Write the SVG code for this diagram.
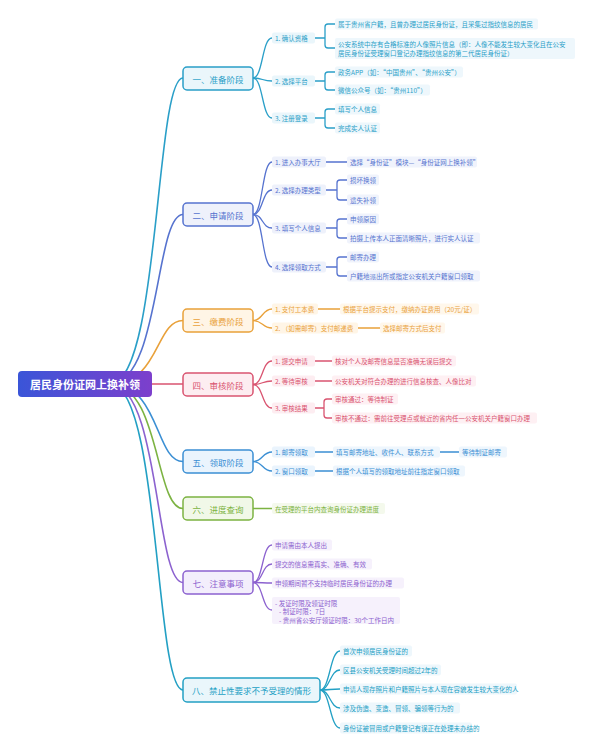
<svg xmlns="http://www.w3.org/2000/svg" width="590" height="754" viewBox="0 0 590 754">
<defs>
<linearGradient id="rg" x1="0" y1="0" x2="1" y2="0"><stop offset="0" stop-color="#3a55d8"/><stop offset="1" stop-color="#7d3fcc"/></linearGradient>
<style>
text{font-family:"Noto Sans CJK SC","Noto Sans",sans-serif;dominant-baseline:central}
.s{font-size:6.5px}
.h{font-size:8.5px;text-anchor:middle}
.lr{fill:none;stroke-width:1.6;stroke-linecap:round}
.ln{fill:none;stroke-width:1.3;stroke-linecap:round}
.bx{stroke-width:1.5}
.c1{fill:#2a9fc8}.k1{stroke:#2a9fc8}.f1{fill:#eaf6fb}.g1{fill:#eef7fc}
.c2{fill:#5673cf}.k2{stroke:#5673cf}.f2{fill:#eef1fb}.g2{fill:#f0f3fc}
.c3{fill:#e9a13a}.k3{stroke:#e9a13a}.f3{fill:#fff5e6}.g3{fill:#fff7eb}
.c4{fill:#d95470}.k4{stroke:#d95470}.f4{fill:#fdedf1}.g4{fill:#fef0f3}
.c5{fill:#3b8fd4}.k5{stroke:#3b8fd4}.f5{fill:#eaf4fd}.g5{fill:#eef6fd}
.c6{fill:#7cb342}.k6{stroke:#7cb342}.f6{fill:#f1f8e8}.g6{fill:#f4f9ec}
.c7{fill:#8c62cf}.k7{stroke:#8c62cf}.f7{fill:#f3eefc}.g7{fill:#f6f1fc}
.c8{fill:#23a0c4}.k8{stroke:#23a0c4}.f8{fill:#eaf6fb}.g8{fill:#eef7fc}
</style>
</defs>
<rect width="590" height="754" fill="#ffffff"/>

<g id="connectors">
<path class="lr k1" d="M110 384 C160 384 155 78 183 78"/>
<path class="lr k2" d="M110 384 C160 384 155 214.5 183 214.5"/>
<path class="lr k3" d="M110 384 C160 384 155 320.5 183 320.5"/>
<path class="lr k4" d="M110 384 H183"/>
<path class="lr k5" d="M110 384 C160 384 155 461.5 183 461.5"/>
<path class="lr k6" d="M110 384 C160 384 155 508.5 183 508.5"/>
<path class="lr k7" d="M110 384 C160 384 155 582.5 183 582.5"/>
<path class="lr k8" d="M110 384 C160 384 155 690 183 690"/>
<path class="ln k1" d="M253 78 C263 78 262 38 272 38"/>
<path class="ln k1" d="M253 78 C263 78 262 81 272 81"/>
<path class="ln k1" d="M253 78 C263 78 262 118 272 118"/>
<path class="ln k1" d="M315 38 H325 M325 38 V27 Q325 24 328 24 H335 M325 38 V45 Q325 48 328 48 H335"/>
<path class="ln k1" d="M315 81 H325 M325 81 V75 Q325 72 328 72 H335 M325 81 V87 Q325 90 328 90 H335"/>
<path class="ln k1" d="M315 118 H325 M325 118 V112 Q325 109 328 109 H335 M325 118 V125 Q325 128 328 128 H335"/>
<path class="ln k2" d="M253 214.5 C263 214.5 262 162 272 162"/>
<path class="ln k2" d="M253 214.5 C263 214.5 262 190 272 190"/>
<path class="ln k2" d="M253 214.5 C263 214.5 262 228 272 228"/>
<path class="ln k2" d="M253 214.5 C263 214.5 262 267 272 267"/>
<path class="ln k2" d="M326 162 H347"/>
<path class="ln k2" d="M326 190 H337 M337 190 V183 Q337 180 340 180 H347 M337 190 V197 Q337 200 340 200 H347"/>
<path class="ln k2" d="M326 228 H337 M337 228 V222 Q337 219 340 219 H347 M337 228 V235 Q337 238 340 238 H347"/>
<path class="ln k2" d="M326 267 H337 M337 267 V260 Q337 257 340 257 H347 M337 267 V273 Q337 276 340 276 H347"/>
<path class="ln k3" d="M253 320.5 C263 320.5 262 309 272 309"/>
<path class="ln k3" d="M253 320.5 C263 320.5 262 328 272 328"/>
<path class="ln k3" d="M318 309 H340"/>
<path class="ln k3" d="M358 328 H380"/>
<path class="ln k4" d="M253 384.5 C263 384.5 262 361 272 361"/>
<path class="ln k4" d="M253 384.5 C263 384.5 262 381 272 381"/>
<path class="ln k4" d="M253 384.5 C263 384.5 262 408 272 408"/>
<path class="ln k4" d="M315 361 H332"/>
<path class="ln k4" d="M315 381 H332"/>
<path class="ln k4" d="M315 408 H324 M324 408 V402 Q324 399 327 399 H332 M324 408 V415 Q324 418 327 418 H332"/>
<path class="ln k5" d="M253 461.5 C263 461.5 262 452 272 452"/>
<path class="ln k5" d="M253 461.5 C263 461.5 262 471 272 471"/>
<path class="ln k5" d="M315 452 H333"/>
<path class="ln k5" d="M440 452 H459"/>
<path class="ln k5" d="M315 471 H333"/>
<path class="ln k6" d="M253 508.5 H272"/>
<path class="ln k7" d="M253 582.5 C263 582.5 262 545 272 545"/>
<path class="ln k7" d="M253 582.5 C263 582.5 262 564 272 564"/>
<path class="ln k7" d="M253 582.5 C263 582.5 262 583 272 583"/>
<path class="ln k7" d="M253 582.5 C263 582.5 262 610 272 610"/>
<path class="ln k8" d="M320 690 C330 690 330 651 340 651"/>
<path class="ln k8" d="M320 690 C330 690 330 670 340 670"/>
<path class="ln k8" d="M320 690 C330 690 330 689 340 689"/>
<path class="ln k8" d="M320 690 C330 690 330 708 340 708"/>
<path class="ln k8" d="M320 690 C330 690 330 728 340 728"/>
</g>

<g id="root">
<rect x="18" y="371" width="134" height="26" rx="4" fill="url(#rg)"/>
<text x="85" y="384" font-size="11" font-weight="bold" fill="#ffffff" text-anchor="middle">居民身份证网上换补领</text>
</g>

<g id="n1">
<rect class="bx k1 f1" x="183" y="67" width="70" height="23" rx="4"/>
<text class="h c1" x="218" y="78.5">一、准备阶段</text>
<rect class="f1" x="272" y="32.5" width="43" height="11" rx="2"/><text class="s c1" x="275" y="38">1. 确认资格</text>
<rect class="f1" x="272" y="75.5" width="43" height="11" rx="2"/><text class="s c1" x="275" y="81">2. 选择平台</text>
<rect class="f1" x="272" y="112.5" width="43" height="11" rx="2"/><text class="s c1" x="275" y="118">3. 注册登录</text>
<rect class="g1" x="335" y="18.5" width="203" height="11" rx="2"/><text class="s c1" x="338" y="24">属于贵州省户籍，且曾办理过居民身份证，且采集过指纹信息的居民</text>
<rect class="g1" x="335" y="38" width="240" height="21" rx="2"/>
<text class="s c1" x="338" y="44">公安系统中存有合格标准的人像照片信息（即：人像不能发生较大变化且在公安</text>
<text class="s c1" x="338" y="53">居民身份证受理窗口登记办理指纹信息的第二代居民身份证）</text>
<rect class="g1" x="335" y="66.5" width="128" height="11" rx="2"/><text class="s c1" x="338" y="72">政务APP（如：“中国贵州”、“贵州公安”）</text>
<rect class="g1" x="335" y="84.5" width="95" height="11" rx="2"/><text class="s c1" x="338" y="90">微信公众号（如：“贵州110”）</text>
<rect class="g1" x="335" y="103.5" width="45" height="11" rx="2"/><text class="s c1" x="338" y="109">填写个人信息</text>
<rect class="g1" x="335" y="122.5" width="45" height="11" rx="2"/><text class="s c1" x="338" y="128">完成实人认证</text>
</g>

<g id="n2">
<rect class="bx k2 f2" x="183" y="203" width="70" height="23" rx="4"/>
<text class="h c2" x="218" y="214.5">二、申请阶段</text>
<rect class="f2" x="272" y="156.5" width="54" height="11" rx="2"/><text class="s c2" x="275" y="162">1. 进入办事大厅</text>
<rect class="f2" x="272" y="184.5" width="54" height="11" rx="2"/><text class="s c2" x="275" y="190">2. 选择办理类型</text>
<rect class="f2" x="272" y="222.5" width="54" height="11" rx="2"/><text class="s c2" x="275" y="228">3. 填写个人信息</text>
<rect class="f2" x="272" y="261.5" width="54" height="11" rx="2"/><text class="s c2" x="275" y="267">4. 选择领取方式</text>
<rect class="g2" x="347" y="156.5" width="130" height="11" rx="2"/><text class="s c2" x="350" y="162">选择“身份证”模块—“身份证网上换补领”</text>
<rect class="g2" x="347" y="174.5" width="32" height="11" rx="2"/><text class="s c2" x="350" y="180">损坏换领</text>
<rect class="g2" x="347" y="194.5" width="32" height="11" rx="2"/><text class="s c2" x="350" y="200">遗失补领</text>
<rect class="g2" x="347" y="213.5" width="32" height="11" rx="2"/><text class="s c2" x="350" y="219">申领原因</text>
<rect class="g2" x="347" y="232.5" width="133" height="11" rx="2"/><text class="s c2" x="350" y="238">拍摄上传本人正面清晰照片，进行实人认证</text>
<rect class="g2" x="347" y="251.5" width="32" height="11" rx="2"/><text class="s c2" x="350" y="257">邮寄办理</text>
<rect class="g2" x="347" y="270.5" width="133" height="11" rx="2"/><text class="s c2" x="350" y="276">户籍地派出所或指定公安机关户籍窗口领取</text>
</g>

<g id="n3">
<rect class="bx k3 f3" x="183" y="309" width="70" height="23" rx="4"/>
<text class="h c3" x="218" y="320.5">三、缴费阶段</text>
<rect class="f3" x="272" y="303.5" width="46" height="11" rx="2"/><text class="s c3" x="275" y="309">1. 支付工本费</text>
<rect class="f3" x="272" y="322.5" width="86" height="11" rx="2"/><text class="s c3" x="275" y="328">2. （如需邮寄）支付邮递费</text>
<rect class="g3" x="340" y="303.5" width="139" height="11" rx="2"/><text class="s c3" x="343" y="309">根据平台提示支付，缴纳办证费用（20元/证）</text>
<rect class="g3" x="380" y="322.5" width="65" height="11" rx="2"/><text class="s c3" x="383" y="328">选择邮寄方式后支付</text>
</g>

<g id="n4">
<rect class="bx k4 f4" x="183" y="373" width="70" height="23" rx="4"/>
<text class="h c4" x="218" y="384.5">四、审核阶段</text>
<rect class="f4" x="272" y="355.5" width="43" height="11" rx="2"/><text class="s c4" x="275" y="361">1. 提交申请</text>
<rect class="f4" x="272" y="375.5" width="43" height="11" rx="2"/><text class="s c4" x="275" y="381">2. 等待审核</text>
<rect class="f4" x="272" y="402.5" width="43" height="11" rx="2"/><text class="s c4" x="275" y="408">3. 审核结果</text>
<rect class="g4" x="332" y="355.5" width="124" height="11" rx="2"/><text class="s c4" x="335" y="361">核对个人及邮寄信息是否准确无误后提交</text>
<rect class="g4" x="332" y="375.5" width="144" height="11" rx="2"/><text class="s c4" x="335" y="381">公安机关对符合办理的进行信息核查、人像比对</text>
<rect class="g4" x="332" y="393.5" width="66" height="11" rx="2"/><text class="s c4" x="335" y="399">审核通过：等待制证</text>
<rect class="g4" x="332" y="412.5" width="205" height="11" rx="2"/><text class="s c4" x="335" y="418">审核不通过：需前往受理点或就近的省内任一公安机关户籍窗口办理</text>
</g>

<g id="n5">
<rect class="bx k5 f5" x="183" y="450" width="70" height="23" rx="4"/>
<text class="h c5" x="218" y="461.5">五、领取阶段</text>
<rect class="f5" x="272" y="446.5" width="43" height="11" rx="2"/><text class="s c5" x="275" y="452">1. 邮寄领取</text>
<rect class="f5" x="272" y="465.5" width="43" height="11" rx="2"/><text class="s c5" x="275" y="471">2. 窗口领取</text>
<rect class="g5" x="333" y="446.5" width="107" height="11" rx="2"/><text class="s c5" x="336" y="452">填写邮寄地址、收件人、联系方式</text>
<rect class="g5" x="459" y="446.5" width="48" height="11" rx="2"/><text class="s c5" x="462" y="452">等待制证邮寄</text>
<rect class="g5" x="333" y="465.5" width="132" height="11" rx="2"/><text class="s c5" x="336" y="471">根据个人填写的领取地址前往指定窗口领取</text>
</g>

<g id="n6">
<rect class="bx k6 f6" x="183" y="497" width="70" height="23" rx="4"/>
<text class="h c6" x="218" y="508.5">六、进度查询</text>
<rect class="g6" x="272" y="503" width="113" height="11" rx="2"/><text class="s c6" x="275" y="508.5">在受理的平台内查询身份证办理进度</text>
</g>

<g id="n7">
<rect class="bx k7 f7" x="183" y="571" width="70" height="23" rx="4"/>
<text class="h c7" x="218" y="582.5">七、注意事项</text>
<rect class="g7" x="272" y="539.5" width="60" height="11" rx="2"/><text class="s c7" x="275" y="545">申请需由本人提出</text>
<rect class="g7" x="272" y="558.5" width="100" height="11" rx="2"/><text class="s c7" x="275" y="564">提交的信息需真实、准确、有效</text>
<rect class="g7" x="272" y="577.5" width="132" height="11" rx="2"/><text class="s c7" x="275" y="583">申领期间暂不支持临时居民身份证的办理</text>
<rect class="g7" x="272" y="597" width="128" height="27" rx="2"/>
<text class="s c7" x="275" y="602.5">- 发证时限及领证时限</text>
<text class="s c7" x="279" y="611">- 制证时限：7日</text>
<text class="s c7" x="279" y="619.5">- 贵州省公安厅领证时限：30个工作日内</text>
</g>

<g id="n8">
<rect class="bx k8 f8" x="183" y="678" width="137" height="24" rx="4"/>
<text class="h c8" x="251.5" y="690">八、禁止性要求不予受理的情形</text>
<rect class="g8" x="340" y="645.5" width="72" height="11" rx="2"/><text class="s c8" x="343" y="651">首次申领居民身份证的</text>
<rect class="g8" x="340" y="664.5" width="101" height="11" rx="2"/><text class="s c8" x="343" y="670">区县公安机关受理时间超过2年的</text>
<rect class="g8" x="340" y="683.5" width="177" height="11" rx="2"/><text class="s c8" x="343" y="689">申请人现存照片和户籍照片与本人现在容貌发生较大变化的人</text>
<rect class="g8" x="340" y="702.5" width="120" height="11" rx="2"/><text class="s c8" x="343" y="708">涉及伪造、变造、冒领、骗领等行为的</text>
<rect class="g8" x="340" y="722.5" width="132" height="11" rx="2"/><text class="s c8" x="343" y="728">身份证被冒用或户籍登记有误正在处理未办结的</text>
</g>
</svg>
